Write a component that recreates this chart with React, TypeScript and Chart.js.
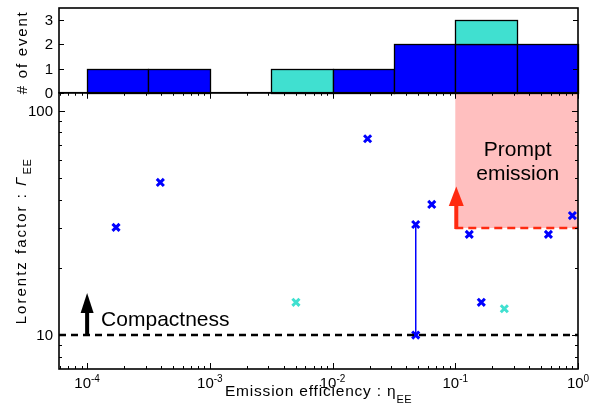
import React, { useEffect, useRef } from 'react';
import { Chart, registerables } from 'chart.js';

Chart.register(...registerables);

// ---------- data ----------
const binEdges = [1e-4, 3.162e-4, 1e-3, 3.162e-3, 1e-2, 3.162e-2, 1e-1, 3.162e-1, 1];
const blueCounts = [1, 1, 0, 0, 1, 2, 2, 2];
const cyanCounts = [0, 0, 0, 1, 0, 0, 1, 0];

const blueEta = [1.72e-4, 3.95e-4, 0.0193, 0.0476, 0.0476, 0.0643, 0.13, 0.163, 0.574, 0.9];
const blueGamma = [30.2, 47.9, 75, 31.1, 10, 38.2, 28.1, 14.0, 28.1, 34.1];
const cyanEta = [5.03e-3, 0.251];
const cyanGamma = [14.0, 13.1];

const rangeEta = [0.0476, 0.0476];
const rangeGamma = [31.1, 10];

const compactnessGamma = 10;
const compactnessArrowEta = 1e-4;
const compactnessArrowHead = [12.6, 15.4];
const promptEta = [0.1, 1];
const promptGamma = 30;
const promptArrowHead = [37.8, 45.9];

const xMin = 5.9e-5;
const xMax = 1;
const yMin = 7.06;
const yMax = 120.2;
const histMax = 3.5;

const xTickValues = [1e-4, 1e-3, 1e-2, 1e-1, 1];
const xTickExponents = ['-4', '-3', '-2', '-1', '0'];
const gammaTickValues = [10, 100];
const histTickValues = [0, 1, 2, 3];

const BLUE = '#0000ff';
const CYAN = '#40e0d0';
const RED = '#ff2a10';
const PINK = '#ffbfbf';
const FONT = '"Liberation Sans", Arial, sans-serif';

function setSpacing(ctx: any, v: string) {
  try { ctx.letterSpacing = v; } catch (e) { /* ignore */ }
}

const customPlugin = {
  id: 'customDraw',
  beforeDatasetsDraw(chart: any) {
    const { ctx } = chart;
    const x = chart.scales.x;
    const y = chart.scales.y;
    const yh = chart.scales.yh;
    ctx.save();
    // prompt emission region
    const px0 = x.getPixelForValue(promptEta[0]);
    const px1 = x.getPixelForValue(promptEta[1]);
    const py0 = y.getPixelForValue(promptGamma);
    ctx.fillStyle = PINK;
    ctx.fillRect(px0, y.top, px1 - px0, py0 - y.top);

    // histogram
    ctx.lineWidth = 1.3;
    ctx.strokeStyle = '#000';
    for (let i = 0; i < blueCounts.length; i++) {
      const l = Math.round(x.getPixelForValue(binEdges[i])) + 0.5;
      const r = Math.round(x.getPixelForValue(binEdges[i + 1])) + 0.5;
      let base = 0;
      const parts: [number, string][] = [[blueCounts[i], BLUE], [cyanCounts[i], CYAN]];
      for (const [c, col] of parts) {
        if (c > 0) {
          const t = Math.round(yh.getPixelForValue(base + c)) + 0.5;
          const b = Math.round(yh.getPixelForValue(base)) + 0.5;
          ctx.fillStyle = col;
          ctx.fillRect(l, t, r - l, b - t);
          ctx.strokeRect(l, t, r - l, b - t);
          base += c;
        }
      }
    }
    ctx.restore();
  },
  afterDatasetsDraw(chart: any) {
    const { ctx } = chart;
    const x = chart.scales.x;
    const y = chart.scales.y;
    const yh = chart.scales.yh;
    ctx.save();

    // arrows
    const drawArrow = (px: number, from: number, headBase: number, tip: number, col: string, shaftW: number, headW: number) => {
      ctx.fillStyle = col;
      ctx.fillRect(px - shaftW / 2, headBase, shaftW, from - headBase);
      ctx.beginPath();
      ctx.moveTo(px - headW / 2, headBase + 0.5);
      ctx.lineTo(px + headW / 2, headBase + 0.5);
      ctx.lineTo(px, tip);
      ctx.closePath();
      ctx.fill();
    };
    const ax = x.getPixelForValue(compactnessArrowEta);
    drawArrow(ax, y.getPixelForValue(compactnessGamma) - 1, y.getPixelForValue(compactnessArrowHead[0]), y.getPixelForValue(compactnessArrowHead[1]), '#000', 4, 13);
    const rx = x.getPixelForValue(promptEta[0]) + 1;
    drawArrow(rx, y.getPixelForValue(promptGamma) + 1, y.getPixelForValue(promptArrowHead[0]), y.getPixelForValue(promptArrowHead[1]), RED, 4, 15);

    // annotation texts
    ctx.fillStyle = '#000';
    ctx.font = '21px ' + FONT;
    ctx.textBaseline = 'alphabetic';
    ctx.textAlign = 'left';
    ctx.fillText('Compactness', ax + 14, y.getPixelForValue(compactnessGamma) - 9);
    ctx.textAlign = 'center';
    const pcx = (x.getPixelForValue(promptEta[0]) + x.getPixelForValue(promptEta[1])) / 2 + 1;
    ctx.fillText('Prompt', pcx, y.top + 63);
    ctx.fillText('emission', pcx, y.top + 87);

    // frames
    ctx.strokeStyle = '#000';
    ctx.lineWidth = 1.6;
    ctx.strokeRect(x.left, yh.top, x.right - x.left, yh.bottom - yh.top);
    ctx.strokeRect(x.left, y.top, x.right - x.left, y.bottom - y.top);

    // x minor/major ticks on scatter panel (top & bottom, inward)
    ctx.lineWidth = 1;
    ctx.beginPath();
    for (let d = -5; d <= 0; d++) {
      for (let m = 1; m <= 9; m++) {
        const v = m * Math.pow(10, d);
        if (v < xMin * 0.999 || v > xMax * 1.001) continue;
        const px = Math.round(x.getPixelForValue(v)) + 0.5;
        const len = m === 1 ? 6 : 3;
        ctx.moveTo(px, y.bottom);
        ctx.lineTo(px, y.bottom - len);
        ctx.moveTo(px, y.top);
        ctx.lineTo(px, y.top + len);
      }
    }
    // y log ticks (left & right)
    for (let d = 0; d <= 2; d++) {
      for (let m = 1; m <= 9; m++) {
        const v = m * Math.pow(10, d);
        if (v < yMin || v > yMax) continue;
        const py = Math.round(y.getPixelForValue(v)) + 0.5;
        const len = m === 1 ? 6 : 3;
        ctx.moveTo(x.left, py);
        ctx.lineTo(x.left + len, py);
        ctx.moveTo(x.right, py);
        ctx.lineTo(x.right - len, py);
      }
    }
    // histogram ticks
    for (const v of histTickValues) {
      const py = Math.round(yh.getPixelForValue(v)) + 0.5;
      ctx.moveTo(x.left, py);
      ctx.lineTo(x.left + 5, py);
      ctx.moveTo(x.right, py);
      ctx.lineTo(x.right - 5, py);
    }
    ctx.stroke();

    // tick labels
    ctx.fillStyle = '#000';
    ctx.font = '15px ' + FONT;
    ctx.textAlign = 'right';
    ctx.textBaseline = 'middle';
    for (const v of histTickValues) {
      ctx.fillText(String(v), x.left - 6, yh.getPixelForValue(v) + 1);
    }
    for (const v of gammaTickValues) {
      ctx.fillText(String(v), x.left - 6, y.getPixelForValue(v) + 1);
    }
    ctx.textBaseline = 'alphabetic';
    ctx.textAlign = 'left';
    xTickValues.forEach((v, i) => {
      const px = x.getPixelForValue(v);
      ctx.font = '15px ' + FONT;
      const w1 = ctx.measureText('10').width;
      ctx.font = '10px ' + FONT;
      const exp = xTickExponents[i];
      const w2 = ctx.measureText(exp).width;
      let start = px - (w1 + w2) / 2;
      if (start + w1 + w2 > chart.width - 1) start = chart.width - 1 - w1 - w2;
      ctx.font = '15px ' + FONT;
      ctx.fillText('10', start, 388);
      ctx.font = '10px ' + FONT;
      ctx.fillText(exp, start + w1, 382);
    });

    // x title
    ctx.font = '15.5px ' + FONT;
    setSpacing(ctx, '0.8px');
    const t1 = 'Emission efficiency : \u03b7';
    const wt1 = ctx.measureText(t1).width;
    ctx.font = '11px ' + FONT;
    setSpacing(ctx, '0.5px');
    const wt2 = ctx.measureText('EE').width;
    const cx = (x.left + x.right) / 2;
    const sx = cx - (wt1 + wt2) / 2;
    ctx.font = '15.5px ' + FONT;
    setSpacing(ctx, '0.8px');
    ctx.fillText(t1, sx, 396);
    ctx.font = '11px ' + FONT;
    setSpacing(ctx, '0.5px');
    ctx.fillText('EE', sx + wt1, 403);

    // y titles
    ctx.save();
    ctx.translate(27, (yh.top + yh.bottom) / 2 + 2);
    ctx.rotate(-Math.PI / 2);
    ctx.font = '15px ' + FONT;
    setSpacing(ctx, '1.8px');
    ctx.textAlign = 'center';
    ctx.fillText('# of event', 0, 0);
    ctx.restore();

    ctx.save();
    ctx.translate(26, 242);
    ctx.rotate(-Math.PI / 2);
    ctx.textAlign = 'left';
    ctx.font = '15px ' + FONT;
    setSpacing(ctx, '2px');
    const a = 'Lorentz factor : ';
    const wa = ctx.measureText(a).width;
    ctx.font = 'italic 15px ' + FONT;
    const wg = ctx.measureText('\u0393').width;
    ctx.font = '11px ' + FONT;
    setSpacing(ctx, '0.5px');
    const we = ctx.measureText('EE').width;
    const s0 = -(wa + wg + we) / 2;
    ctx.font = '15px ' + FONT;
    setSpacing(ctx, '2px');
    ctx.fillText(a, s0, 0);
    ctx.font = 'italic 15px ' + FONT;
    ctx.fillText('\u0393', s0 + wa, 0);
    ctx.font = '11px ' + FONT;
    setSpacing(ctx, '0.5px');
    ctx.fillText('EE', s0 + wa + wg + 1, 5);
    ctx.restore();

    setSpacing(ctx, '0px');
    ctx.restore();
  },
};

export default function App() {
  const ref = useRef<HTMLCanvasElement | null>(null);
  useEffect(() => {
    if (!ref.current) return;
    const chart = new Chart(ref.current, {
      type: 'scatter',
      data: {
        datasets: [
          {
            type: 'line',
            data: [{ x: xMin, y: compactnessGamma }, { x: xMax, y: compactnessGamma }],
            borderColor: '#000',
            borderWidth: 2.5,
            borderDash: [7, 5],
            pointRadius: 0,
            yAxisID: 'y',
          } as any,
          {
            type: 'line',
            data: [{ x: promptEta[0], y: promptGamma }, { x: promptEta[1], y: promptGamma }],
            borderColor: RED,
            borderWidth: 2.5,
            borderDash: [8, 5],
            pointRadius: 0,
            yAxisID: 'y',
          } as any,
          {
            type: 'line',
            data: rangeEta.map((v, i) => ({ x: v, y: rangeGamma[i] })),
            borderColor: BLUE,
            borderWidth: 1,
            pointRadius: 0,
            yAxisID: 'y',
          } as any,
          {
            data: blueEta.map((v, i) => ({ x: v, y: blueGamma[i] })),
            pointStyle: 'crossRot',
            pointRadius: 5,
            pointBorderWidth: 3,
            borderColor: BLUE,
            backgroundColor: BLUE,
            yAxisID: 'y',
          } as any,
          {
            data: cyanEta.map((v, i) => ({ x: v, y: cyanGamma[i] })),
            pointStyle: 'crossRot',
            pointRadius: 5,
            pointBorderWidth: 3,
            borderColor: CYAN,
            backgroundColor: CYAN,
            yAxisID: 'y',
          } as any,
        ],
      },
      options: {
        animation: false,
        responsive: false,
        layout: { padding: { top: 7, right: 19, left: 0, bottom: 0 } },
        plugins: { legend: { display: false }, tooltip: { enabled: false } },
        scales: {
          x: {
            type: 'logarithmic',
            min: xMin,
            max: xMax,
            ticks: { display: false },
            grid: { display: false },
            border: { display: false },
            afterFit: (s: any) => { s.height = 38; },
          },
          y: {
            type: 'logarithmic',
            position: 'left',
            stack: 'v',
            stackWeight: 277,
            min: yMin,
            max: yMax,
            ticks: { display: false },
            grid: { display: false },
            border: { display: false },
            afterFit: (s: any) => { s.width = 59; },
          },
          yh: {
            type: 'linear',
            position: 'left',
            stack: 'v',
            stackWeight: 85,
            min: 0,
            max: histMax,
            ticks: { display: false },
            grid: { display: false },
            border: { display: false },
            afterFit: (s: any) => { s.width = 59; },
          },
        } as any,
      },
      plugins: [customPlugin],
    });
    return () => chart.destroy();
  }, []);
  return (
    <div style={{ position: 'absolute', left: 0, top: 0, width: 597, height: 407 }}>
      <canvas ref={ref} width={597} height={407} style={{ display: 'block' }} />
    </div>
  );
}
